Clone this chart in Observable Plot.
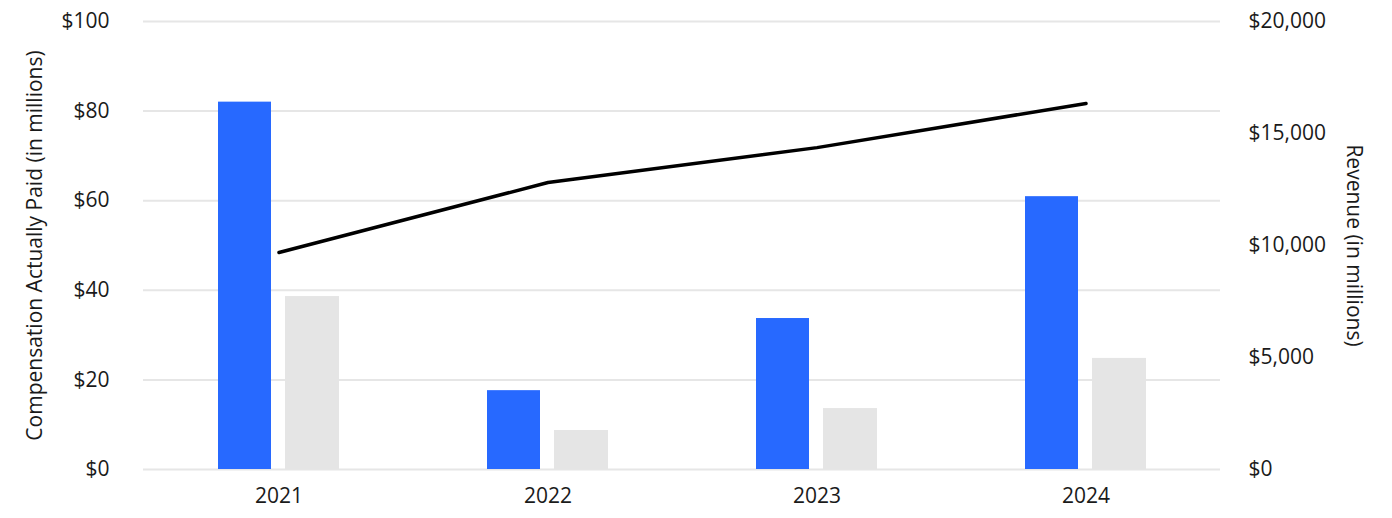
<!DOCTYPE html>
<html>
<head>
<meta charset="utf-8">
<script src="https://cdn.jsdelivr.net/npm/d3@7"></script>
<script src="https://cdn.jsdelivr.net/npm/@observablehq/plot@0.6"></script>
<style>
  html, body { margin: 0; padding: 0; background: #fff; }
  #chart svg { display: block; }
</style>
</head>
<body>
<div id="chart"></div>
<script>
const years = ["2021", "2022", "2023", "2024"];
const cap = [82, 17.6, 33.7, 60.9];        // Compensation Actually Paid ($M) - blue
const capOther = [38.6, 8.7, 13.6, 24.8];  // second series ($M) - grey
const revenue = [9690, 12810, 14370, 16340]; // Revenue ($M)
const leftTicks = [0, 20, 40, 60, 80, 100];
const rightTicks = [0, 5000, 10000, 15000, 20000];

const REV_MAX = 20000, LEFT_MAX = 100;
const toLeft = v => v * LEFT_MAX / REV_MAX;

const blueData = years.map((y, i) => ({year: y, value: cap[i]}));
const greyData = years.map((y, i) => ({year: y, value: capOther[i]}));
const revData = years.map((y, i) => ({year: y, revenue: revenue[i]}));

const font = "'Open Sans', 'Noto Sans', sans-serif";
const textColor = "#1a1a1a";
const fs = 21;

const chart = Plot.plot({
  width: 1392,
  height: 518,
  marginLeft: 143,
  marginRight: 172,
  marginTop: 21,
  marginBottom: 49,
  style: {fontFamily: font, fontSize: fs + "px", color: textColor, background: "#fff"},
  x: {type: "band", domain: years, padding: 0, label: null},
  y: {domain: [0, 100], label: null},
  marks: [
    Plot.ruleY(leftTicks, {stroke: "#e6e6e6", strokeWidth: 2}),
    Plot.barY(blueData, {x: "year", y: "value", fill: "#2769ff", insetLeft: 74, insetRight: 142}),
    Plot.barY(greyData, {x: "year", y: "value", fill: "#e5e5e5", insetLeft: 141, insetRight: 74}),
    Plot.lineY(revData, {x: "year", y: d => toLeft(d.revenue), stroke: "#000", strokeWidth: 3.5}),
    Plot.axisX({tickSize: 0, tickPadding: 19, fontSize: fs, label: null}),
    Plot.axisY(leftTicks, {anchor: "left", tickSize: 0, tickPadding: 34, tickFormat: d => "$" + d, fontSize: fs, label: null}),
    Plot.axisY(rightTicks.map(toLeft), {anchor: "right", tickSize: 0, tickPadding: 28,
      tickFormat: d => "$" + d3.format(",")(Math.round(d * REV_MAX / LEFT_MAX)), fontSize: fs, label: null}),
    Plot.text(["Compensation Actually Paid (in millions)"], {frameAnchor: "left", textAnchor: "middle", rotate: -90, dx: -108, fontSize: fs, fill: textColor}),
    Plot.text(["Revenue (in millions)"], {frameAnchor: "right", textAnchor: "middle", rotate: 90, dx: 133, fontSize: fs, fill: textColor})
  ]
});
document.getElementById("chart").appendChild(chart);
</script>
</body>
</html>
